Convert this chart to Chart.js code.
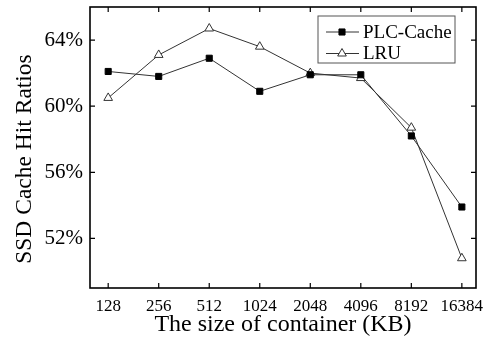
<!DOCTYPE html>
<html>
<head>
<meta charset="utf-8">
<script src="https://cdn.jsdelivr.net/npm/chart.js@4"></script>
<style>
    html, body { margin: 0; padding: 0; background: #fff; }
</style>
</head>
<body>
<canvas id="chart" width="499" height="339"></canvas>
<script>
// container sizes (KB)
const sizes = ['128', '256', '512', '1024', '2048', '4096', '8192', '16384'];
// hit ratios in %
const plcCache = [62.1, 61.8, 62.9, 60.9, 61.9, 61.9, 58.2, 53.9];
const lru = [60.5, 63.1, 64.7, 63.6, 62.0, 61.7, 58.7, 50.8];
const yTicks = [52, 56, 60, 64];

const FONT = '"Liberation Serif", "Times New Roman", serif';
const Y_TITLE = 'SSD Cache Hit Ratios';

// inward tick marks on all four sides + frame
const frameTicks = {
    id: 'frameTicks',
    afterDraw(chart) {
        const { ctx, chartArea: a, scales } = chart;
        ctx.save();
        ctx.strokeStyle = '#000';
        ctx.lineWidth = 1.6;
        ctx.strokeRect(a.left, a.top, a.right - a.left, a.bottom - a.top);
        ctx.lineWidth = 1.2;
        ctx.beginPath();
        for (const t of scales.x.ticks) {
            const px = scales.x.getPixelForValue(t.value);
            ctx.moveTo(px, a.bottom); ctx.lineTo(px, a.bottom - 5);
            ctx.moveTo(px, a.top); ctx.lineTo(px, a.top + 5);
        }
        for (const t of scales.y.ticks) {
            const py = scales.y.getPixelForValue(t.value);
            ctx.moveTo(a.left, py); ctx.lineTo(a.left + 5, py);
            ctx.moveTo(a.right, py); ctx.lineTo(a.right - 5, py);
        }
        ctx.stroke();

        // y axis title, sits a bit below the plot centre in the original
        ctx.translate(24, 159);
        ctx.rotate(-Math.PI / 2);
        ctx.font = '23.5px ' + FONT;
        ctx.fillStyle = '#000';
        ctx.textAlign = 'center';
        ctx.textBaseline = 'middle';
        ctx.fillText(Y_TITLE, 0, 1);
        ctx.restore();
    }
};

// boxed legend: line with marker in the middle
const boxLegend = {
    id: 'boxLegend',
    afterDraw(chart) {
        const { ctx } = chart;
        const x = 318, y = 16, w = 137, h = 47;
        ctx.save();
        ctx.fillStyle = '#fff';
        ctx.fillRect(x, y, w, h);
        ctx.strokeStyle = '#555';
        ctx.lineWidth = 1;
        ctx.strokeRect(x, y, w, h);
        ctx.font = '19px ' + FONT;
        ctx.textBaseline = 'middle';
        chart.data.datasets.forEach((ds, i) => {
            const cy = y + 16 + i * 21.5;
            ctx.strokeStyle = ds.borderColor;
            ctx.lineWidth = 1;
            ctx.beginPath();
            ctx.moveTo(x + 8, cy); ctx.lineTo(x + 41, cy);
            ctx.stroke();
            ctx.fillStyle = ds.pointBackgroundColor;
            ctx.strokeStyle = ds.pointBorderColor;
            Chart.helpers.drawPoint(ctx, {
                pointStyle: ds.pointStyle,
                radius: ds.pointRadius,
                borderWidth: 1
            }, x + 24, cy);
            ctx.fillStyle = '#000';
            ctx.fillText(ds.label, x + 45, cy + 1);
        });
        ctx.restore();
    }
};

new Chart(document.getElementById('chart'), {
    type: 'line',
    data: {
        datasets: [
            {
                label: 'PLC-Cache',
                data: plcCache.map((v, i) => ({ x: i, y: v })),
                borderColor: '#333',
                borderWidth: 1,
                pointStyle: 'rect',
                pointRadius: 4.3,
                pointBackgroundColor: '#000',
                pointBorderColor: '#000',
                pointBorderWidth: 1
            },
            {
                label: 'LRU',
                data: lru.map((v, i) => ({ x: i, y: v })),
                borderColor: '#333',
                borderWidth: 1,
                pointStyle: 'triangle',
                pointRadius: 5,
                pointBackgroundColor: '#fff',
                pointBorderColor: '#333',
                pointBorderWidth: 1
            }
        ]
    },
    options: {
        responsive: false,
        animation: false,
        layout: { padding: { top: 7, right: 23, left: 0, bottom: 0 } },
        plugins: { legend: { display: false }, tooltip: { enabled: false } },
        scales: {
            x: {
                type: 'linear',
                min: -0.36,
                max: 7.28,
                afterBuildTicks: scale => {
                    scale.ticks = sizes.map((s, i) => ({ value: i }));
                },
                grid: { display: false, drawTicks: false },
                border: { display: false },
                ticks: {
                    color: '#000',
                    padding: 8,
                    maxRotation: 0,
                    autoSkip: false,
                    font: { family: FONT, size: 17 },
                    callback: v => sizes[v]
                },
                title: {
                    display: true,
                    text: 'The size of container (KB)',
                    color: '#000',
                    font: { family: FONT, size: 24 },
                    padding: { top: 0, bottom: 0 }
                },
                afterFit: scale => {
                    scale.height = 51;
                    scale.paddingLeft = 0;
                    scale.paddingRight = 0;
                }
            },
            y: {
                min: 49,
                max: 66,
                afterBuildTicks: scale => {
                    scale.ticks = yTicks.map(v => ({ value: v }));
                },
                grid: { display: false, drawTicks: false },
                border: { display: false },
                ticks: {
                    color: '#000',
                    padding: 7,
                    font: { family: FONT, size: 21 },
                    callback: v => v + '%'
                },
                afterFit: scale => {
                    scale.width = 90;
                    scale.paddingTop = 0;
                    scale.paddingBottom = 0;
                }
            }
        }
    },
    plugins: [frameTicks, boxLegend]
});
</script>
</body>
</html>
